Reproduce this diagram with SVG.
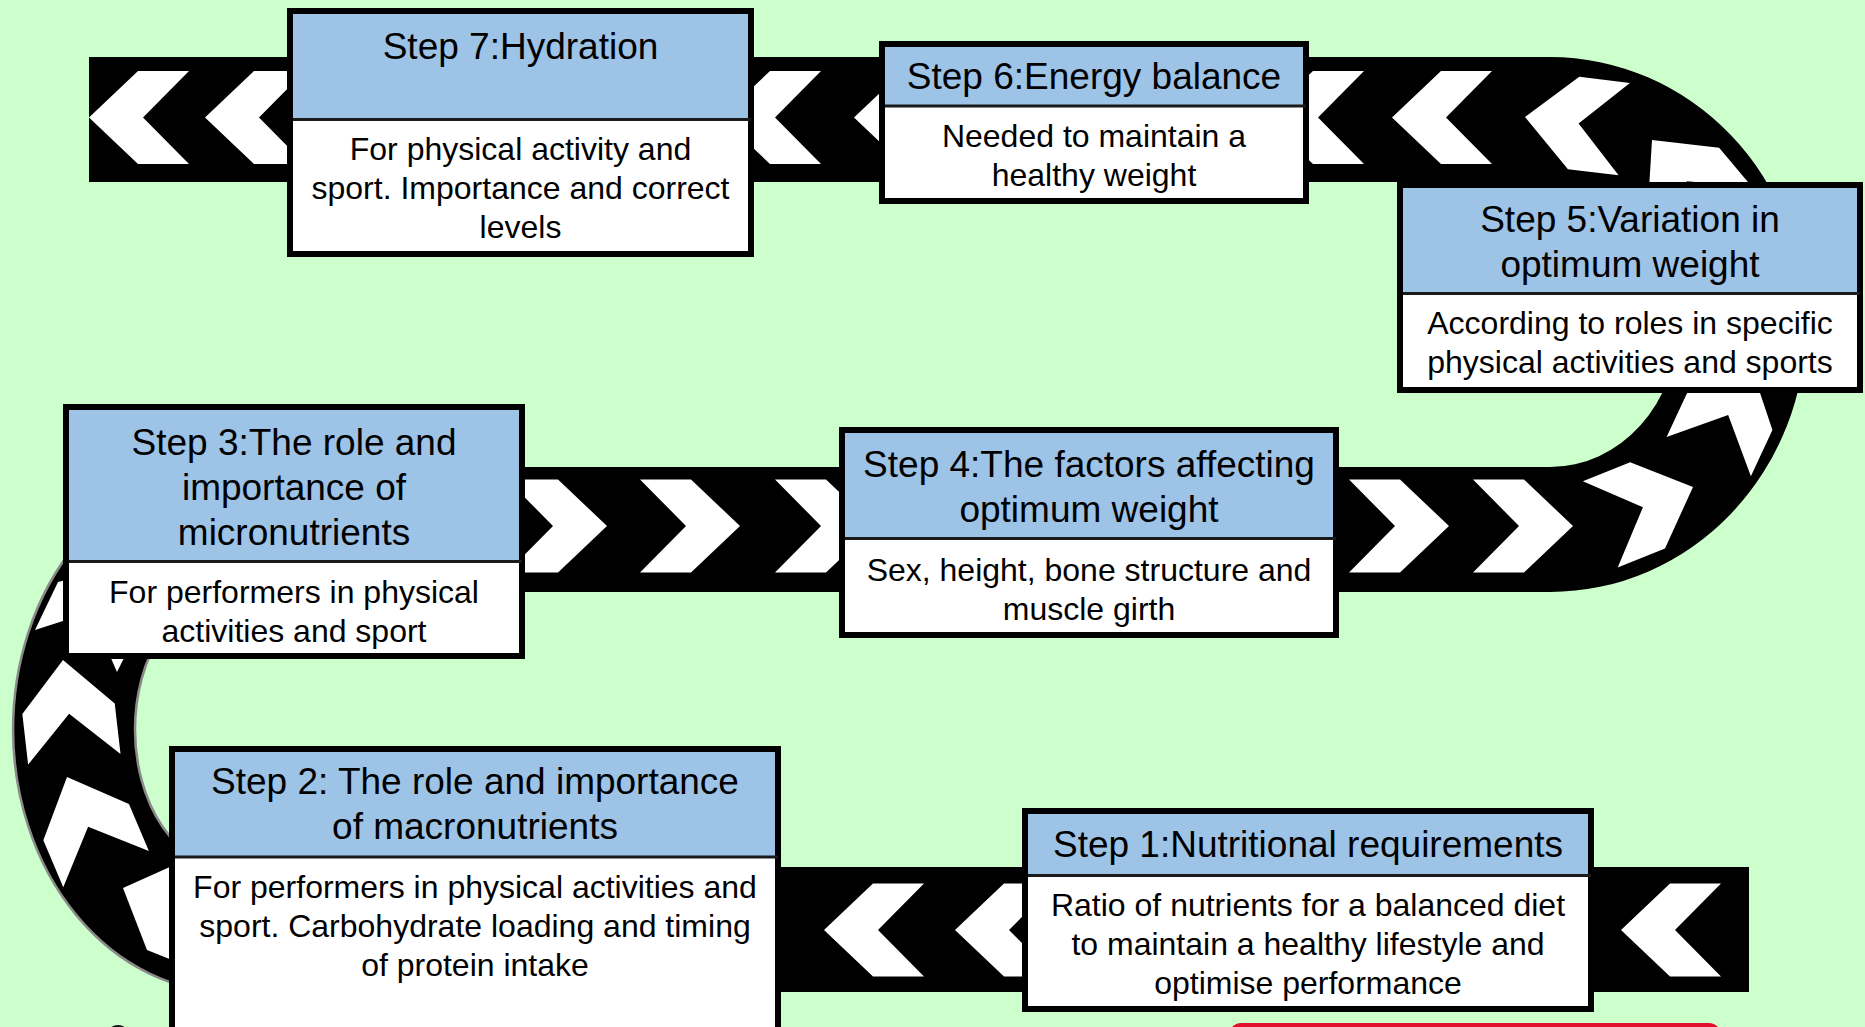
<svg xmlns="http://www.w3.org/2000/svg" xmlns:xlink="http://www.w3.org/1999/xlink" width="1865" height="1027" viewBox="0 0 1865 1027">
<style>
.frame{fill:#fff;stroke:#000;stroke-width:6}
.hdr{fill:#9DC3E6}
.dv{stroke:#1a1a1a;stroke-width:3}
.ht{font-family:"Liberation Sans",Arial,sans-serif;font-size:37px;text-anchor:middle;fill:#000}
.bt{font-family:"Liberation Sans",Arial,sans-serif;font-size:32px;text-anchor:middle;fill:#000}
.chev{fill:#fff}
.rim{fill:none;stroke:#8a8a8a;stroke-width:2.5}
</style>
<defs>
<path id="chev" class="chev" d="M0,0 L-49,-46.5 L-100,-46.5 L-54,0 L-100,46.5 L-49,46.5 Z"/>
</defs>
<rect x="0" y="0" width="1865" height="1027" fill="#CCFFCC"/>
<g id="cutoff">
<rect x="1229" y="1023" width="492" height="60" rx="12" fill="#E3102D"/>
<ellipse cx="118" cy="1042" rx="14" ry="17" fill="#111"/>
</g>
<g id="connectors">
<path d="M89,57 H1550 A256,267.5 0 0 1 1550,592 H229 A94,137.5 0 0 0 229,867 H1749 V992 H229 A216,262.5 0 0 1 229,467 H1550 A128,142.5 0 0 0 1550,182 H89 Z" fill="#000"/>
<path class="rim" d="M229,467 A216,262.5 0 0 0 229,992"/>
<path class="rim" d="M229,592 A94,137.5 0 0 0 229,867"/>
<use xlink:href="#chev" href="#chev" transform="translate(89,117.5) rotate(180)"/>
<use xlink:href="#chev" href="#chev" transform="translate(205,117.5) rotate(180)"/>
<use xlink:href="#chev" href="#chev" transform="translate(721,117.5) rotate(180)"/>
<use xlink:href="#chev" href="#chev" transform="translate(854,117.5) rotate(180)"/>
<use xlink:href="#chev" href="#chev" transform="translate(1264,117.5) rotate(180)"/>
<use xlink:href="#chev" href="#chev" transform="translate(1392,117.5) rotate(180)"/>
<use xlink:href="#chev" href="#chev" transform="translate(1525,117) rotate(187)"/>
<use xlink:href="#chev" href="#chev" transform="translate(1652,140) rotate(230)"/>
<use xlink:href="#chev" href="#chev" transform="translate(1751,366) rotate(295)"/>
<use xlink:href="#chev" href="#chev" transform="translate(1693,487) rotate(338)"/>
<use xlink:href="#chev" href="#chev" transform="translate(607,526)"/>
<use xlink:href="#chev" href="#chev" transform="translate(740,526)"/>
<use xlink:href="#chev" href="#chev" transform="translate(875,526)"/>
<use xlink:href="#chev" href="#chev" transform="translate(1449,526)"/>
<use xlink:href="#chev" href="#chev" transform="translate(1573,526)"/>
<use xlink:href="#chev" href="#chev" transform="translate(824,930) rotate(180)"/>
<use xlink:href="#chev" href="#chev" transform="translate(955,930) rotate(180)"/>
<use xlink:href="#chev" href="#chev" transform="translate(1621,930) rotate(180)"/>
<use xlink:href="#chev" href="#chev" transform="translate(63,660) rotate(263.5)"/>
<use xlink:href="#chev" href="#chev" transform="translate(67,777) rotate(247)"/>
<polygon class="chev" points="35,630 66,620 66,580 58,582"/>
<polygon class="chev" points="110,656 125,656 117,672"/>
<polygon class="chev" points="123,888 172,866 172,960 147,950"/>
</g>
<g id="step7">
<rect class="frame" x="290" y="11" width="461" height="243"/>
<rect class="hdr" x="293" y="14" width="455" height="105.5"/>
<line class="dv" x1="293" y1="119.5" x2="751" y2="119.5"/>
<text class="ht" x="520.5" y="59">Step 7:Hydration</text>
<text class="bt"><tspan x="520.5" y="160">For physical activity and</tspan><tspan x="520.5" y="199">sport. Importance and correct</tspan><tspan x="520.5" y="238">levels</tspan></text>
</g>
<g id="step6">
<rect class="frame" x="882" y="44" width="424" height="157"/>
<rect class="hdr" x="885" y="47" width="418" height="59"/>
<line class="dv" x1="885" y1="106" x2="1306" y2="106"/>
<text class="ht" x="1094" y="89">Step 6:Energy balance</text>
<text class="bt"><tspan x="1094" y="147">Needed to maintain a</tspan><tspan x="1094" y="186">healthy weight</tspan></text>
</g>
<g id="step5">
<rect class="frame" x="1400" y="185" width="460" height="205"/>
<rect class="hdr" x="1403" y="188" width="454" height="105.5"/>
<line class="dv" x1="1403" y1="293.5" x2="1860" y2="293.5"/>
<text class="ht"><tspan x="1630" y="232">Step 5:Variation in</tspan><tspan x="1630" y="277">optimum weight</tspan></text>
<text class="bt"><tspan x="1630" y="334">According to roles in specific</tspan><tspan x="1630" y="373">physical activities and sports</tspan></text>
</g>
<g id="step4">
<rect class="frame" x="842" y="430" width="494" height="205"/>
<rect class="hdr" x="845" y="433" width="488" height="105.5"/>
<line class="dv" x1="845" y1="538.5" x2="1336" y2="538.5"/>
<text class="ht"><tspan x="1089" y="477">Step 4:The factors affecting</tspan><tspan x="1089" y="522">optimum weight</tspan></text>
<text class="bt"><tspan x="1089" y="581">Sex, height, bone structure and</tspan><tspan x="1089" y="620">muscle girth</tspan></text>
</g>
<g id="step3">
<rect class="frame" x="66" y="407" width="456" height="249"/>
<rect class="hdr" x="69" y="410" width="450" height="151.5"/>
<line class="dv" x1="69" y1="561.5" x2="522" y2="561.5"/>
<text class="ht"><tspan x="294" y="455">Step 3:The role and</tspan><tspan x="294" y="500">importance of</tspan><tspan x="294" y="545">micronutrients</tspan></text>
<text class="bt"><tspan x="294" y="603">For performers in physical</tspan><tspan x="294" y="642">activities and sport</tspan></text>
</g>
<g id="step2">
<rect class="frame" x="172" y="749" width="606" height="320"/>
<rect class="hdr" x="175" y="752" width="600" height="105"/>
<line class="dv" x1="175" y1="857" x2="778" y2="857"/>
<text class="ht"><tspan x="475" y="794">Step 2: The role and importance</tspan><tspan x="475" y="839">of macronutrients</tspan></text>
<text class="bt"><tspan x="475" y="898">For performers in physical activities and</tspan><tspan x="475" y="937">sport. Carbohydrate loading and timing</tspan><tspan x="475" y="976">of protein intake</tspan></text>
</g>
<g id="step1">
<rect class="frame" x="1025" y="811" width="566" height="198"/>
<rect class="hdr" x="1028" y="814" width="560" height="61.5"/>
<line class="dv" x1="1028" y1="875.5" x2="1591" y2="875.5"/>
<text class="ht" x="1308" y="857">Step 1:Nutritional requirements</text>
<text class="bt"><tspan x="1308" y="916">Ratio of nutrients for a balanced diet</tspan><tspan x="1308" y="955">to maintain a healthy lifestyle and</tspan><tspan x="1308" y="994">optimise performance</tspan></text>
</g>
</svg>
